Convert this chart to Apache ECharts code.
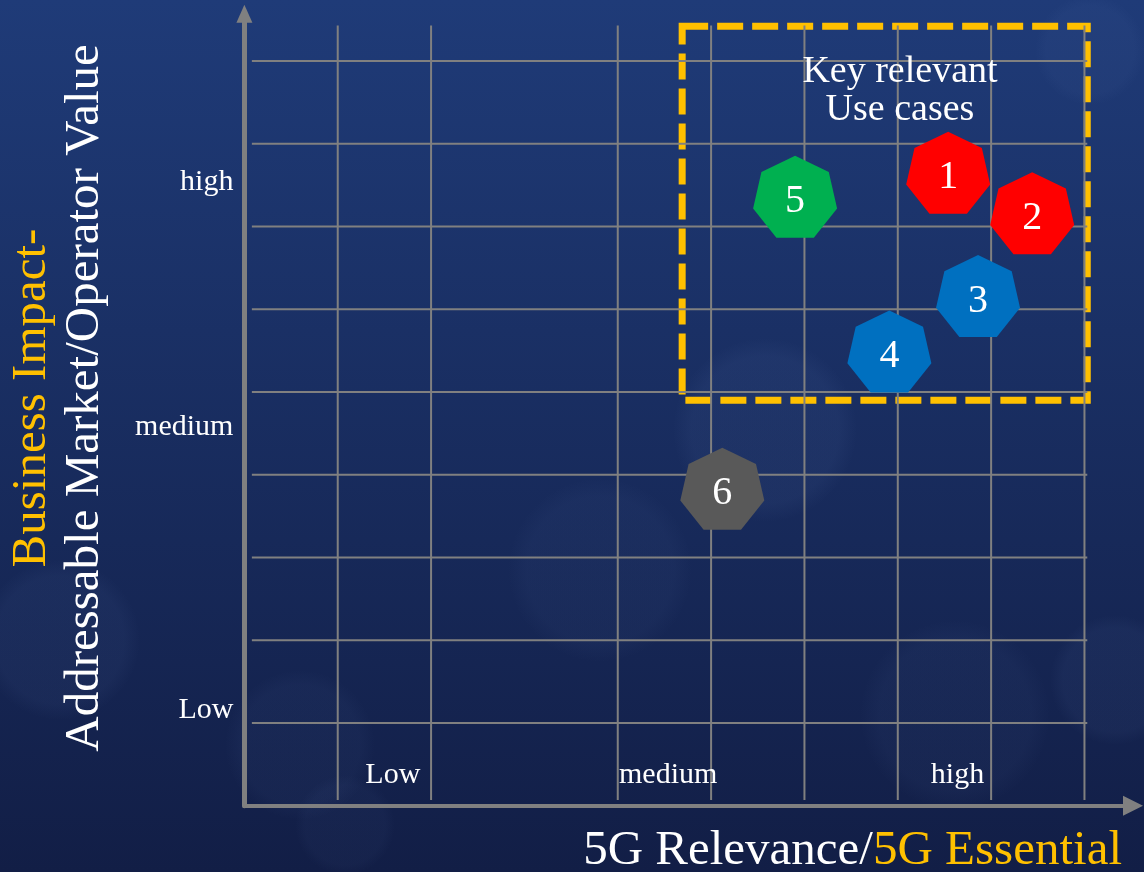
<!DOCTYPE html>
<html><head><meta charset="utf-8">
<script src="https://cdn.jsdelivr.net/npm/echarts/dist/echarts.min.js"></script>
<style>html,body{margin:0;padding:0;background:#1a2c60}#c{width:1144px;height:872px}</style>
</head><body><div id="c"></div>
<script>
// ---- data ----
const useCaseIds = ['1', '2', '3', '4', '5', '6'];
const relevance = [7.54, 8.44, 7.86, 6.91, 5.90, 5.12];   // x: 5G relevance
const impact = [7.65, 7.16, 6.16, 5.49, 7.36, 3.83];      // y: business impact
const useCaseColors = ['#FF0000', '#FF0000', '#0070C0', '#0070C0', '#00B050', '#595959'];
const levelNames = ['Low', 'medium', 'high'];
const xLevelPos = [1.59, 4.54, 7.64];
const yLevelPos = [1.16, 4.58, 7.54];
const xGridTicks = [1, 2, 4, 5, 6, 7, 8, 9];
const yGridTicks = [1, 2, 3, 4, 5, 6, 7, 8, 9];
const keyBox = [[4.69, 9.42], [9.03, 4.90]];
const keyText = 'Key relevant\nUse cases';
const xTitle = ['5G Relevance/', '5G Essential'];
const yTitle = ['Business Impact-', 'Addressable Market/Operator Value'];

// ---- styles ----
const SERIF = '"Liberation Serif", "DejaVu Serif", serif';
const GRID_COLOR = '#808080';
const ORANGE = '#FFC000';
const HEPTA = 'path://M0,-43L33.6,-26.8L41.9,9.57L18.66,38.74L-18.66,38.74L-41.9,9.57L-33.6,-26.8Z';

const chart = echarts.init(document.getElementById('c'), null, {renderer: 'canvas'});

const bokeh = [
  [765, 430, 92, 0.06], [600, 570, 92, 0.04], [955, 715, 95, 0.04], [1115, 680, 65, 0.05],
  [60, 640, 80, 0.05], [300, 745, 75, 0.04], [345, 825, 50, 0.035], [1090, 50, 55, 0.04]
];
function softFill(a) {
  return {
    type: 'radial', x: 0.5, y: 0.5, r: 0.5,
    colorStops: [
      {offset: 0, color: 'rgba(130,160,220,' + a + ')'},
      {offset: 0.8, color: 'rgba(130,160,220,' + a + ')'},
      {offset: 1, color: 'rgba(130,160,220,0)'}
    ]
  };
}

const labelBase = {color: '#ffffff', fontFamily: SERIF, textBorderWidth: 0, opacity: 1};

const option = {
  animation: false,
  backgroundColor: {
    type: 'linear', x: 0, y: 0, x2: 0, y2: 1,
    colorStops: [{offset: 0, color: '#1f3b78'}, {offset: 1, color: '#121e46'}]
  },
  grid: {left: 244.4, width: 888.6, top: 13.85, height: 791.9},
  xAxis: {
    type: 'value', min: 0, max: 9.52,
    axisLine: {show: true, lineStyle: {color: '#808080', width: 4}, symbol: ['none', 'triangle'], symbolSize: [20, 20]},
    axisTick: {show: false}, axisLabel: {show: false}, splitLine: {show: false}
  },
  yAxis: {
    type: 'value', min: 0, max: 9.57,
    axisLine: {show: true, lineStyle: {color: '#808080', width: 5}, symbol: ['none', 'triangle'], symbolSize: [16, 18]},
    axisTick: {show: false}, axisLabel: {show: false}, splitLine: {show: false}
  },
  graphic: [
    ...bokeh.map(b => ({
      type: 'circle', z: 0, silent: true,
      shape: {cx: b[0], cy: b[1], r: b[2]},
      style: {fill: softFill(b[3])}
    })),
    {
      type: 'text', z: 10, x: 58.5, y: 398, rotation: Math.PI / 2,
      style: {
        text: '{a|' + yTitle[0] + '}\n{b|' + yTitle[1] + '}',
        align: 'center', verticalAlign: 'middle',
        rich: {
          a: {fill: ORANGE, font: '49px ' + SERIF, lineHeight: 53, align: 'center'},
          b: {fill: '#ffffff', font: '49px ' + SERIF, lineHeight: 53, align: 'center'}
        }
      }
    },
    {
      type: 'text', z: 10, x: 1122, y: 851,
      style: {
        text: '{w|' + xTitle[0] + '}{o|' + xTitle[1] + '}',
        align: 'right', verticalAlign: 'middle',
        rich: {
          w: {fill: '#ffffff', font: '49px ' + SERIF},
          o: {fill: ORANGE, font: '49px ' + SERIF}
        }
      }
    },
    {
      type: 'text', z: 10, x: 900, y: 91,
      style: {
        text: keyText, align: 'center', verticalAlign: 'middle',
        fill: '#ffffff', font: '38px ' + SERIF, lineHeight: 38
      }
    }
  ],
  series: [
    {
      type: 'custom', silent: true, z: 1,
      data: xGridTicks.map(v => [v, 0]),
      encode: {x: 0, y: 1},
      renderItem: function (params, api) {
        const x = api.value(0);
        const p1 = api.coord([x, 0.07]), p2 = api.coord([x, 9.43]);
        return {type: 'line', shape: {x1: p1[0], y1: p1[1], x2: p2[0], y2: p2[1]}, style: {stroke: GRID_COLOR, lineWidth: 2}};
      }
    },
    {
      type: 'custom', silent: true, z: 1,
      data: yGridTicks.map(v => [0, v]),
      encode: {x: 0, y: 1},
      renderItem: function (params, api) {
        const y = api.value(1);
        const p1 = api.coord([0.08, y]), p2 = api.coord([9.03, y]);
        return {type: 'line', shape: {x1: p1[0], y1: p1[1], x2: p2[0], y2: p2[1]}, style: {stroke: GRID_COLOR, lineWidth: 2}};
      },
      markArea: {
        silent: true,
        itemStyle: {color: 'rgba(0,0,0,0)', borderColor: ORANGE, borderWidth: 7, borderType: [26, 9]},
        data: [[{coord: keyBox[0]}, {coord: keyBox[1]}]]
      }
    },
    {
      type: 'scatter', z: 5, silent: true,
      symbolSize: 0, itemStyle: {opacity: 1},
      data: levelNames.map((n, i) => ({name: n, value: [xLevelPos[i], 0.37]})),
      label: Object.assign({show: true, position: 'inside', formatter: '{b}', fontSize: 30}, labelBase)
    },
    {
      type: 'scatter', z: 5, silent: true,
      symbolSize: 0, itemStyle: {opacity: 1},
      data: levelNames.map((n, i) => ({name: n, value: [0, yLevelPos[i]]})),
      label: Object.assign({show: true, position: 'left', distance: 11, formatter: '{b}', fontSize: 30}, labelBase)
    },
    {
      type: 'scatter', z: 6, silent: true,
      symbol: HEPTA, symbolSize: [84, 82],
      data: useCaseIds.map((id, i) => ({
        name: id, value: [relevance[i], impact[i]],
        itemStyle: {color: useCaseColors[i], opacity: 1}
      })),
      label: Object.assign({show: true, position: 'inside', formatter: '{b}', fontSize: 40, offset: [0, 5]}, labelBase)
    }
  ]
};
chart.setOption(option);
</script>
</body></html>
